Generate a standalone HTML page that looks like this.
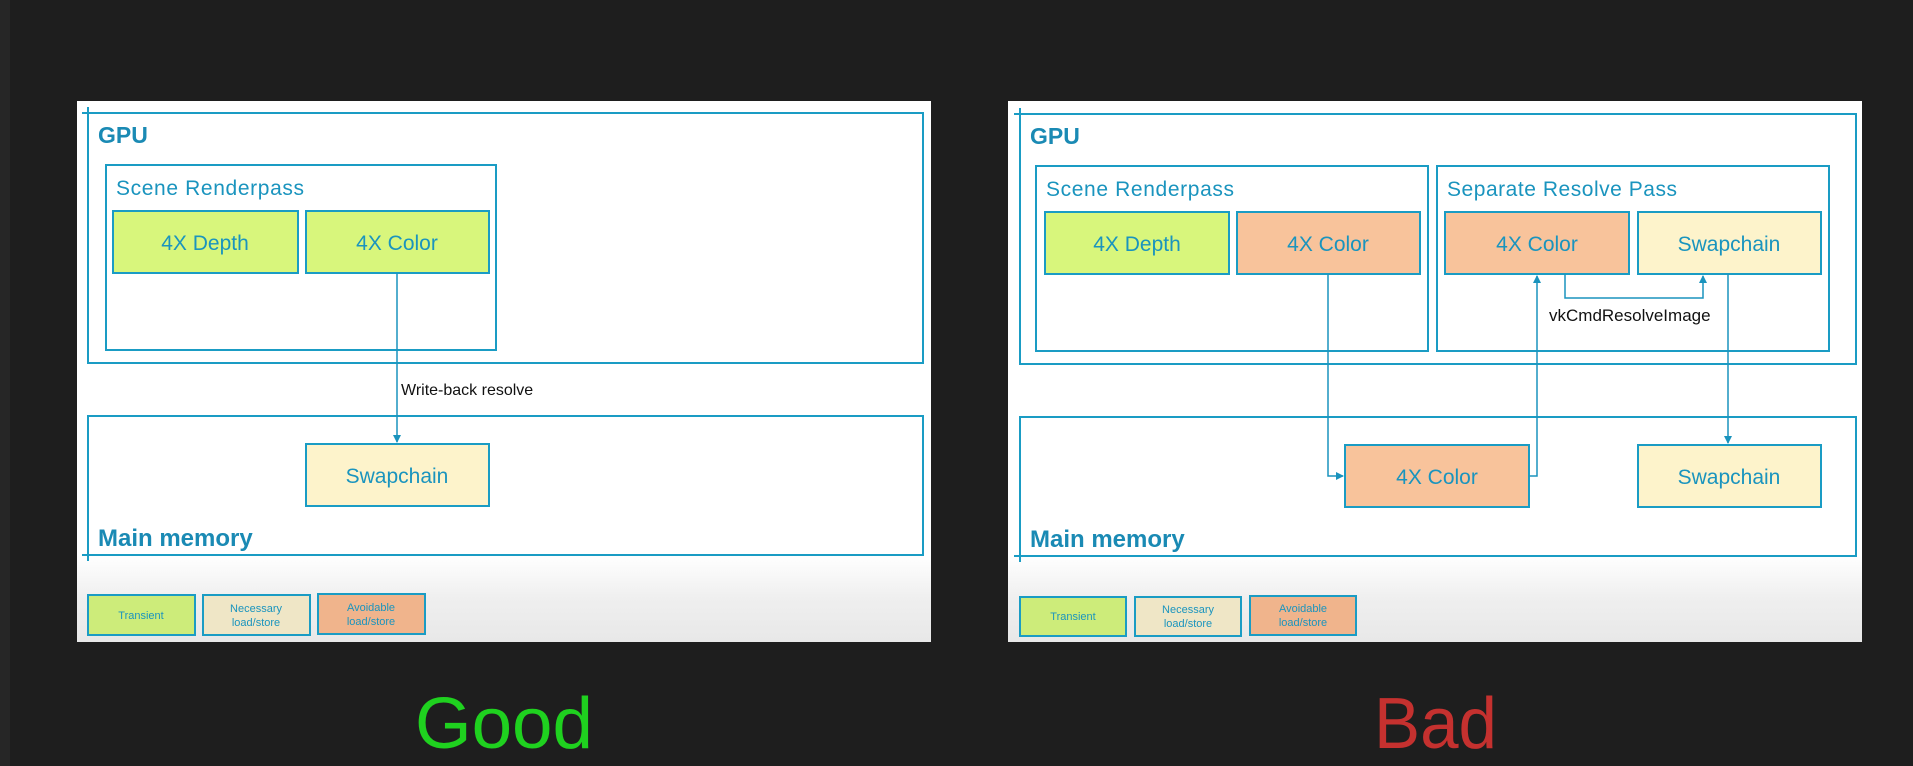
<!DOCTYPE html>
<html><head><meta charset="utf-8"><style>
html,body{margin:0;padding:0;background:#1e1e1e;width:1913px;height:766px;overflow:hidden}
svg{display:block}
text{font-family:"Liberation Sans",sans-serif}
</style></head><body>
<svg width="1913" height="766" viewBox="0 0 1913 766" xmlns="http://www.w3.org/2000/svg">
<defs>
<linearGradient id="bg" x1="0" y1="0" x2="0" y2="1">
<stop offset="0" stop-color="#ffffff"/><stop offset="0.84" stop-color="#ffffff"/><stop offset="0.92" stop-color="#efefef"/><stop offset="1" stop-color="#e8e8e8"/>
</linearGradient>
<marker id="ah" markerWidth="8" markerHeight="8" refX="7" refY="4" orient="auto" markerUnits="userSpaceOnUse">
<path d="M0,0 L8,4 L0,8 z" fill="#1a93bd"/></marker>
</defs>
<rect x="0" y="0" width="10" height="766" fill="#262626"/>
<!-- LEFT SLIDE -->
<rect x="77" y="101" width="854" height="541" fill="url(#bg)"/>
<g fill="none" stroke="#1a9cc4" stroke-width="2">
<rect x="88" y="113" width="835" height="250"/>
<rect x="106" y="165" width="390" height="185"/>
<rect x="88" y="416" width="835" height="139"/>
</g>
<g stroke="#1a9cc4" stroke-width="2"><path d="M82,113h12M88,107v12M82,555h12M88,549v12"/></g>
<text x="98" y="143" font-size="23" font-weight="bold" fill="#1a8ab4">GPU</text>
<text x="116" y="195" font-size="21" fill="#1a94be" textLength="188">Scene Renderpass</text>
<g stroke="#1a9cc4" stroke-width="2">
<rect x="113" y="211" width="185" height="62" fill="#d8f67c"/>
<rect x="306" y="211" width="183" height="62" fill="#d8f67c"/>
<rect x="306" y="444" width="183" height="62" fill="#fdf3cb"/>
</g>
<g font-size="21" fill="#1a94be" text-anchor="middle">
<text x="205" y="250">4X Depth</text>
<text x="397" y="250">4X Color</text>
<text x="397" y="483">Swapchain</text>
</g>
<line x1="397" y1="273" x2="397" y2="442" stroke="#1a93bd" stroke-width="1.5" marker-end="url(#ah)"/>
<text x="401" y="395" font-size="16" fill="#111">Write-back resolve</text>
<text x="98" y="546" font-size="24" font-weight="bold" fill="#1a8ab4">Main memory</text>
<g stroke="#1a9cc4" stroke-width="2">
<rect x="88" y="595" width="107" height="40" fill="#cdec7a"/>
<rect x="203" y="595" width="107" height="40" fill="#efe6c6"/>
<rect x="318" y="594" width="107" height="40" fill="#f0b48c"/>
</g>
<g font-size="11" fill="#1a94be" text-anchor="middle">
<text x="141" y="619">Transient</text>
<text x="256" y="612">Necessary</text><text x="256" y="626">load/store</text>
<text x="371" y="611">Avoidable</text><text x="371" y="625">load/store</text>
</g>
<!-- RIGHT SLIDE -->
<rect x="1008" y="101" width="854" height="541" fill="url(#bg)"/>
<g fill="none" stroke="#1a9cc4" stroke-width="2">
<rect x="1020" y="114" width="836" height="250"/>
<rect x="1036" y="166" width="392" height="185"/>
<rect x="1437" y="166" width="392" height="185"/>
<rect x="1020" y="417" width="836" height="139"/>
</g>
<g stroke="#1a9cc4" stroke-width="2"><path d="M1014,114h12M1020,108v12M1014,556h12M1020,550v12"/></g>
<text x="1030" y="144" font-size="23" font-weight="bold" fill="#1a8ab4">GPU</text>
<text x="1046" y="196" font-size="21" fill="#1a94be" textLength="188">Scene Renderpass</text>
<text x="1447" y="196" font-size="21" fill="#1a94be" textLength="230">Separate Resolve Pass</text>
<g stroke="#1a9cc4" stroke-width="2">
<rect x="1045" y="212" width="184" height="62" fill="#d8f67c"/>
<rect x="1237" y="212" width="183" height="62" fill="#f8c39b"/>
<rect x="1445" y="212" width="184" height="62" fill="#f8c39b"/>
<rect x="1638" y="212" width="183" height="62" fill="#fdf3cb"/>
<rect x="1345" y="445" width="184" height="62" fill="#f8c39b"/>
<rect x="1638" y="445" width="183" height="62" fill="#fdf3cb"/>
</g>
<g font-size="21" fill="#1a94be" text-anchor="middle">
<text x="1137" y="251">4X Depth</text>
<text x="1328" y="251">4X Color</text>
<text x="1537" y="251">4X Color</text>
<text x="1729" y="251">Swapchain</text>
<text x="1437" y="484">4X Color</text>
<text x="1729" y="484">Swapchain</text>
</g>
<g fill="none" stroke="#1a93bd" stroke-width="1.5">
<polyline points="1328,274 1328,476 1343,476" marker-end="url(#ah)"/>
<polyline points="1529,476 1537,476 1537,276" marker-end="url(#ah)"/>
<polyline points="1565,274 1565,298 1703,298 1703,276" marker-end="url(#ah)"/>
<line x1="1728" y1="274" x2="1728" y2="443" marker-end="url(#ah)"/>
</g>
<text x="1549" y="321" font-size="17" fill="#111">vkCmdResolveImage</text>
<text x="1030" y="547" font-size="24" font-weight="bold" fill="#1a8ab4">Main memory</text>
<g stroke="#1a9cc4" stroke-width="2">
<rect x="1020" y="597" width="106" height="39" fill="#cdec7a"/>
<rect x="1135" y="597" width="106" height="39" fill="#efe6c6"/>
<rect x="1250" y="596" width="106" height="39" fill="#f0b48c"/>
</g>
<g font-size="11" fill="#1a94be" text-anchor="middle">
<text x="1073" y="620">Transient</text>
<text x="1188" y="613">Necessary</text><text x="1188" y="627">load/store</text>
<text x="1303" y="612">Avoidable</text><text x="1303" y="626">load/store</text>
</g>
<!-- labels -->
<text x="415" y="748" font-size="72" fill="#1fd11f" textLength="178" lengthAdjust="spacingAndGlyphs">Good</text>
<text x="1374" y="748" font-size="72" fill="#c5312f" textLength="123" lengthAdjust="spacingAndGlyphs">Bad</text>
</svg>
</body></html>
